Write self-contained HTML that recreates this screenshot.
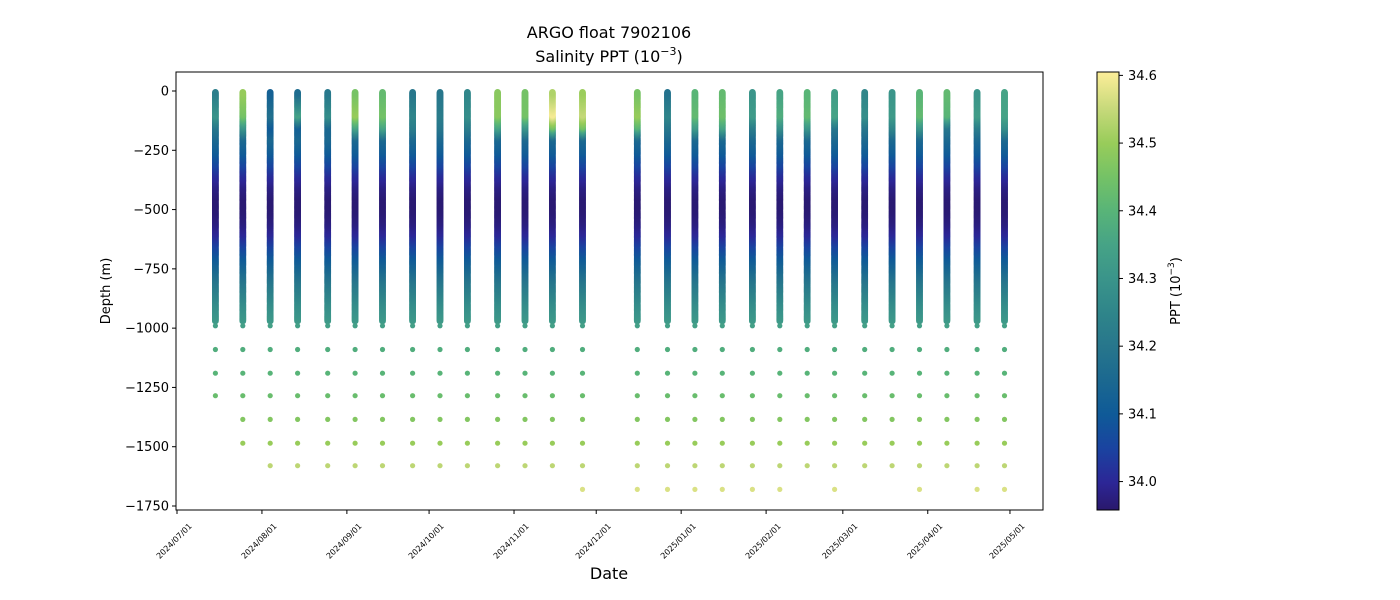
<!DOCTYPE html>
<html><head><meta charset="utf-8"><style>
body{margin:0;background:#fff;}
svg{display:block;font-family:"DejaVu Sans","Liberation Sans",sans-serif;}
</style></head><body>
<svg id="chart" width="1400" height="600" viewBox="0 0 1400 600">
<defs>
<linearGradient id="cbgrad" x1="0" y1="1" x2="0" y2="0">
<stop offset="0" stop-color="#2a186c"/>
<stop offset="0.062" stop-color="#2c2696"/>
<stop offset="0.14" stop-color="#1a43a0"/>
<stop offset="0.217" stop-color="#0f5a98"/>
<stop offset="0.295" stop-color="#1b6890"/>
<stop offset="0.372" stop-color="#27768c"/>
<stop offset="0.45" stop-color="#2f858a"/>
<stop offset="0.527" stop-color="#3a948a"/>
<stop offset="0.605" stop-color="#46a386"/>
<stop offset="0.682" stop-color="#58b478"/>
<stop offset="0.76" stop-color="#74c266"/>
<stop offset="0.837" stop-color="#98cc5a"/>
<stop offset="0.915" stop-color="#c6d97a"/>
<stop offset="1" stop-color="#fdee99"/>
</linearGradient>
<clipPath id="clip"><rect x="176" y="72" width="867" height="438"/></clipPath>
</defs>
<text x="609" y="38" font-size="16" text-anchor="middle">ARGO float 7902106</text>
<text x="609" y="62" font-size="16" text-anchor="middle">Salinity PPT (10<tspan dy="-7" font-size="11">−3</tspan><tspan dy="7">)</tspan></text>
<g id="marks" clip-path="url(#clip)"></g>
<rect x="176" y="72" width="867" height="438" fill="none" stroke="#000" stroke-width="1"/>
<g id="yaxis"></g>
<g id="xaxis"></g>
<text transform="translate(110,291) rotate(-90)" font-size="13" text-anchor="middle">Depth (m)</text>
<text x="609" y="579" font-size="16" text-anchor="middle">Date</text>
<rect x="1097" y="72" width="22" height="438" fill="url(#cbgrad)" stroke="#000" stroke-width="1"/>
<g id="cbaxis"></g>
<text transform="translate(1180,291) rotate(-90)" font-size="13" text-anchor="middle">PPT (10<tspan dy="-6" font-size="9">−3</tspan><tspan dy="6">)</tspan></text>
</svg>
<script>
// ---- data ----
const profileDates = ["2024-07-15","2024-07-25","2024-08-04","2024-08-14","2024-08-25","2024-09-04","2024-09-14","2024-09-25","2024-10-05","2024-10-15","2024-10-26","2024-11-05","2024-11-15","2024-11-26","2024-12-16","2024-12-27","2025-01-06","2025-01-16","2025-01-27","2025-02-06","2025-02-16","2025-02-26","2025-03-09","2025-03-19","2025-03-29","2025-04-08","2025-04-19","2025-04-29"];
const surfaceSal = [34.22,34.5,34.12,34.15,34.2,34.45,34.42,34.2,34.2,34.25,34.48,34.45,34.52,34.5,34.45,34.18,34.4,34.42,34.3,34.35,34.4,34.33,34.25,34.3,34.4,34.42,34.3,34.35];
const sal100 = [34.3,34.45,34.18,34.35,34.28,34.5,34.45,34.25,34.22,34.28,34.48,34.45,34.6,34.55,34.5,34.25,34.42,34.44,34.32,34.38,34.42,34.35,34.28,34.32,34.42,34.4,34.33,34.35];
const sal150 = [34.2,34.3,34.1,34.12,34.15,34.35,34.35,34.22,34.2,34.22,34.35,34.3,34.45,34.45,34.4,34.2,34.32,34.35,34.22,34.28,34.3,34.2,34.2,34.25,34.3,34.2,34.22,34.28];
const maxDepth = [1285,1485,1580,1580,1580,1580,1580,1580,1580,1580,1580,1580,1580,1680,1680,1680,1680,1680,1680,1680,1580,1680,1580,1580,1680,1580,1680,1680];
const commonDepths = [200,250,300,350,400,450,500,550,600,650,700,750,800,850,900,970];
const commonSal = [34.15,34.11,34.06,34.01,33.98,33.965,33.965,33.975,34.0,34.05,34.1,34.15,34.2,34.24,34.28,34.32];
const deepDepths = [990,1090,1190,1285,1385,1485,1580,1680];
const deepSal = [34.34,34.38,34.4,34.43,34.47,34.5,34.54,34.57];
const yTicks = [0,-250,-500,-750,-1000,-1250,-1500,-1750];
const yTickLabels = ["0","−250","−500","−750","−1000","−1250","−1500","−1750"];
const xTicks = ["2024-07-01","2024-08-01","2024-09-01","2024-10-01","2024-11-01","2024-12-01","2025-01-01","2025-02-01","2025-03-01","2025-04-01","2025-05-01"];
const cbTicks = [34.0,34.1,34.2,34.3,34.4,34.5,34.6];

// ---- scales ----
const NS="http://www.w3.org/2000/svg";
const day0 = Date.UTC(2024,6,1);
function dayOf(s){const p=s.split('-');return (Date.UTC(+p[0],+p[1]-1,+p[2])-day0)/86400000;}
function xS(s){return 177+dayOf(s)*2.74;}
function yS(d){return 91-d*0.23714;}
const vmin=33.958, vmax=34.605;
function cbY(v){return 510-(v-vmin)/(vmax-vmin)*438;}
const cstops=[[0,[42,24,108]],[0.062,[44,38,150]],[0.14,[26,67,160]],[0.217,[15,90,152]],[0.295,[27,104,144]],[0.372,[39,118,140]],[0.45,[47,133,138]],[0.527,[58,148,138]],[0.605,[70,163,134]],[0.682,[88,180,120]],[0.76,[116,194,102]],[0.837,[152,204,90]],[0.915,[198,217,122]],[1,[253,238,153]]];
function color(v){let t=(v-vmin)/(vmax-vmin);t=Math.max(0,Math.min(1,t));
 for(let i=1;i<cstops.length;i++){if(t<=cstops[i][0]){const a=cstops[i-1],b=cstops[i];const f=(t-a[0])/(b[0]-a[0]);
 return 'rgb('+a[1].map((c,k)=>Math.round(c+(b[1][k]-c)*f)).join(',')+')';}}return 'rgb(253,238,153)';}
function interp(xs,ys,x){if(x<=xs[0])return ys[0];for(let i=1;i<xs.length;i++){if(x<=xs[i]){const f=(x-xs[i-1])/(xs[i]-xs[i-1]);return ys[i-1]+(ys[i]-ys[i-1])*f;}}return ys[ys.length-1];}
function mk(tag,attrs,parent){const e=document.createElementNS(NS,tag);for(const k in attrs)e.setAttribute(k,attrs[k]);parent.appendChild(e);return e;}

// ---- marks ----
const marks=document.getElementById('marks');
profileDates.forEach((dt,i)=>{
 const g=mk('g',{},marks);
 
 
 const x=xS(dt);
 const ds=[0,100,150].concat(commonDepths), vs=[surfaceSal[i],sal100[i],sal150[i]].concat(commonSal);
 for(let d=970;d>=5;d-=4){
  const c=mk('circle',{cx:x.toFixed(1),cy:yS(-d).toFixed(1),r:3.4,fill:color(interp(ds,vs,d))},g);
  
  
 }
 deepDepths.forEach((d,k)=>{
  if(d>maxDepth[i])return;
  const c=mk('circle',{cx:x.toFixed(1),cy:yS(-d).toFixed(1),r:2.6,fill:color(deepSal[k])},g);
  
  
 });
});

// ---- axes ----
const ya=document.getElementById('yaxis');
yTicks.forEach((v,i)=>{const y=yS(v);
 const l=mk('line',{x1:172,x2:176,y1:y,y2:y,stroke:'#000'},ya);
 
 
 const t=mk('text',{x:169,y:y+4.5,'font-size':13,'text-anchor':'end'},ya);t.textContent=yTickLabels[i];
 
 
});
const xa=document.getElementById('xaxis');
xTicks.forEach(s=>{const x=xS(s);
 const l=mk('line',{x1:x,x2:x,y1:510,y2:514,stroke:'#000'},xa);
 
 
 const t=mk('text',{transform:'translate('+(x-1)+',543) rotate(-45)','font-size':8,'text-anchor':'middle'},xa);t.textContent=s.replace(/-/g,'/');
 
 
});
const cba=document.getElementById('cbaxis');
cbTicks.forEach(v=>{const y=cbY(v);
 const l=mk('line',{x1:1119,x2:1123,y1:y,y2:y,stroke:'#000'},cba);
 
 
 const t=mk('text',{x:1128,y:y+4.5,'font-size':13},cba);t.textContent=v.toFixed(1);
 
 
});
</script>
</body></html>
